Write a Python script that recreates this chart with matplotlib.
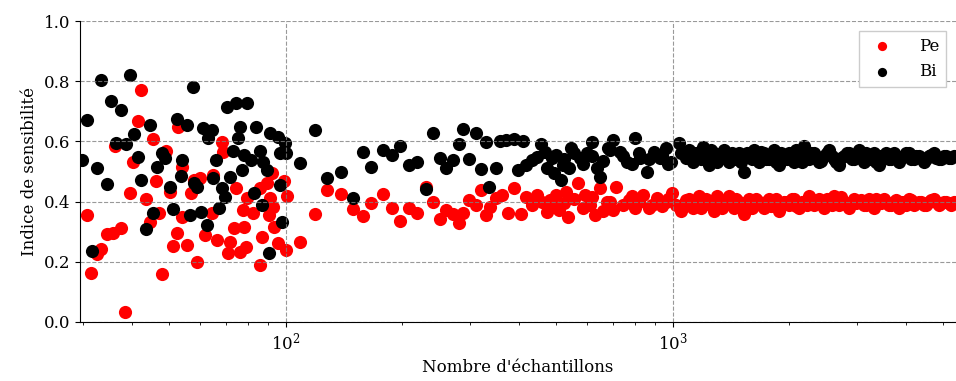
import matplotlib
matplotlib.use("Agg")
import matplotlib.pyplot as plt
import numpy as np

plt.rcParams['font.family'] = ['DejaVu Serif']
plt.rcParams['font.size'] = 12

# --- Pe (rouge) : petits echantillons ---
n_pe_low = [42.2, 41.5, 45.5, 49, 36.2, 40.2, 46.2, 39.5, 43.6, 30.7, 47, 44.5, 37.5, 35.7,
            34.5, 33.4, 32.5, 31.3, 48, 38.4, 52.5, 51.2, 50.3, 52.8,
            68.5, 69, 54, 60, 58, 65, 57, 74.6, 92, 89.5, 85.7, 79.5, 77.5, 82.5, 91, 92.5,
            90.5, 54, 64.5, 73.5, 78, 93, 62, 66.4, 71.7, 87, 55.5, 78.8, 76, 71, 95.5, 100,
            59, 85.7, 99, 101, 109]
pe_low = [0.771, 0.668, 0.608, 0.568, 0.585, 0.532, 0.468, 0.429, 0.408, 0.355, 0.362, 0.332,
          0.312, 0.296, 0.292, 0.242, 0.226, 0.163, 0.159, 0.033, 0.296, 0.252, 0.432, 0.648,
          0.598, 0.565, 0.515, 0.478, 0.472, 0.488, 0.429, 0.445, 0.495, 0.462, 0.445, 0.412,
          0.372, 0.362, 0.412, 0.382, 0.355, 0.349, 0.362, 0.312, 0.315, 0.315, 0.289, 0.272,
          0.266, 0.282, 0.256, 0.249, 0.233, 0.229, 0.262, 0.239, 0.199, 0.189, 0.47, 0.42,
          0.266]

# --- Bi (noir) : petits echantillons ---
n_bi_low = [33.4, 39.5, 35.3, 37.5, 30.7, 44.5, 52.5, 40.5, 36.5, 38.6, 29.7, 32.5, 41.5,
            34.5, 42.2, 48, 46.5, 48.8, 50.3, 45.5, 51.2, 43.6, 31.5,
            57.5, 70.4, 74.3, 79.5, 55.5, 61, 64.5, 63, 76, 75.2, 84, 91, 95.5, 99.5, 73, 78,
            85.7, 96.5, 66, 81.5, 87.2, 54, 77, 89.5, 53.5, 65, 71.7, 58, 59, 68.5, 69.5, 96.5,
            82.6, 67.3, 87, 56.5, 60.5, 62.5, 98, 90.5, 100]
bi_low = [0.804, 0.82, 0.734, 0.704, 0.671, 0.654, 0.674, 0.625, 0.595, 0.591, 0.538, 0.512,
          0.548, 0.458, 0.472, 0.561, 0.515, 0.545, 0.448, 0.362, 0.375, 0.309, 0.236,
          0.781, 0.714, 0.728, 0.728, 0.654, 0.645, 0.638, 0.611, 0.648, 0.611, 0.648, 0.628,
          0.615, 0.595, 0.568, 0.555, 0.568, 0.561, 0.538, 0.538, 0.532, 0.538, 0.505, 0.505,
          0.485, 0.478, 0.482, 0.462, 0.448, 0.445, 0.415, 0.455, 0.429, 0.379, 0.389, 0.355,
          0.365, 0.322, 0.332, 0.229, 0.56]

# --- echantillons moyens (100 - 1100) ---
n_pe_mid = [119, 128, 139, 149, 158, 166, 178, 188, 198, 208, 219, 230, 240, 250, 259, 270,
            280, 288, 298, 310, 320, 330, 338, 350, 362, 375, 390, 405, 418, 433, 446, 460,
            473, 483, 497, 500, 510, 535, 530, 570, 592, 610, 630, 648, 675, 715, 700, 770,
            800, 840, 885, 910, 960, 995, 1020, 1080,
            525, 555, 585, 620, 660, 690, 745, 785, 820, 870, 940, 975, 1050]
pe_mid = [0.359, 0.438, 0.425, 0.375, 0.352, 0.395, 0.425, 0.379, 0.336, 0.379, 0.362, 0.448,
          0.399, 0.342, 0.372, 0.359, 0.329, 0.362, 0.405, 0.389, 0.438, 0.355, 0.382, 0.412,
          0.422, 0.362, 0.445, 0.359, 0.415, 0.389, 0.422, 0.399, 0.365, 0.405, 0.382, 0.422,
          0.372, 0.349, 0.432, 0.462, 0.422, 0.389, 0.355, 0.445, 0.399, 0.448, 0.372, 0.405,
          0.379, 0.422, 0.389, 0.412, 0.399, 0.429, 0.389, 0.405,
          0.395, 0.41, 0.38, 0.415, 0.37, 0.40, 0.39, 0.42, 0.40, 0.38, 0.385, 0.41, 0.37]

n_bi_mid = [109, 119, 128, 139, 149, 158, 166, 178, 188, 198, 208, 219, 230, 240, 250, 259,
            270, 280, 288, 298, 310, 320, 330, 336, 350, 357, 372, 390, 398, 410, 417, 433,
            446, 457, 468, 473, 487, 495, 500, 516, 520, 540, 545, 575, 600, 618, 636, 648,
            680, 700, 730, 760, 800, 825, 860, 895, 925, 960, 990, 1040, 1080,
            525, 555, 585, 620, 660, 690, 745, 785, 820, 870, 940, 975, 1050]
bi_mid = [0.528, 0.638, 0.478, 0.498, 0.412, 0.565, 0.515, 0.571, 0.555, 0.585, 0.522, 0.532,
          0.442, 0.628, 0.545, 0.512, 0.538, 0.591, 0.641, 0.542, 0.628, 0.508, 0.598, 0.448,
          0.512, 0.601, 0.605, 0.608, 0.505, 0.601, 0.522, 0.538, 0.548, 0.591, 0.565, 0.512,
          0.545, 0.495, 0.555, 0.472, 0.522, 0.512, 0.578, 0.545, 0.561, 0.598, 0.512, 0.482,
          0.578, 0.605, 0.565, 0.532, 0.611, 0.545, 0.498, 0.565, 0.545, 0.578, 0.532, 0.595,
          0.545,
          0.54, 0.56, 0.525, 0.55, 0.535, 0.57, 0.55, 0.525, 0.56, 0.54, 0.555, 0.525, 0.56]

# --- grands echantillons (> 1100) ---
n_high = [1100, 1130, 1170, 1200, 1240, 1280, 1320, 1360, 1400, 1440, 1480, 1530, 1580, 1620,
          1670, 1720, 1770, 1830, 1880, 1940, 2000, 2060, 2120, 2190, 2250, 2320, 2390, 2460,
          2540, 2610, 2690, 2770, 2860, 2940, 3030, 3120, 3220, 3310, 3410, 3520, 3620, 3730,
          3840, 3960, 4080, 4200, 4330, 4460, 4590, 4730, 4870, 5020, 5170, 5330,
          1115, 1150, 1185, 1220, 1260, 1300, 1340, 1380, 1420, 1460, 1505, 1555, 1600, 1645,
          1695, 1745, 1800, 1855, 1910, 1970, 2030, 2090, 2155, 2220, 2285, 2355, 2425, 2500,
          2575, 2650, 2730, 2815, 2900, 2985, 3075, 3170, 3265, 3360, 3465, 3570, 3675, 3785,
          3900, 4020, 4140, 4265, 4395, 4525, 4660, 4800, 4945, 5095, 5250]
pe_high = [0.41, 0.38, 0.42, 0.39, 0.40, 0.37, 0.41, 0.39, 0.42, 0.38, 0.40, 0.36, 0.41, 0.39,
           0.40, 0.38, 0.41, 0.40, 0.37, 0.40, 0.39, 0.41, 0.38, 0.40, 0.42, 0.39, 0.41, 0.38,
           0.40, 0.42, 0.39, 0.40, 0.38, 0.41, 0.40, 0.39, 0.41, 0.38, 0.40, 0.41, 0.39, 0.40,
           0.38, 0.40, 0.41, 0.39, 0.40, 0.39, 0.40, 0.41, 0.39, 0.40, 0.395, 0.40,
           0.39, 0.40, 0.38, 0.41, 0.39, 0.42, 0.38, 0.40, 0.39, 0.41, 0.385, 0.40, 0.38, 0.41,
           0.39, 0.40, 0.385, 0.41, 0.39, 0.40, 0.41, 0.385, 0.40, 0.39, 0.41, 0.395, 0.40, 0.41,
           0.39, 0.40, 0.415, 0.39, 0.40, 0.395, 0.405, 0.39, 0.40, 0.41, 0.395, 0.40, 0.39,
           0.405, 0.40, 0.39, 0.405, 0.395, 0.40, 0.39, 0.405, 0.40, 0.395, 0.40, 0.39]
bi_high = [0.57, 0.53, 0.55, 0.58, 0.52, 0.56, 0.54, 0.57, 0.53, 0.55, 0.56, 0.50, 0.55, 0.57,
           0.53, 0.56, 0.54, 0.57, 0.52, 0.55, 0.56, 0.53, 0.55, 0.585, 0.54, 0.56, 0.53, 0.55,
           0.57, 0.54, 0.52, 0.55, 0.56, 0.54, 0.57, 0.53, 0.55, 0.56, 0.52, 0.55, 0.54, 0.56,
           0.53, 0.55, 0.56, 0.54, 0.55, 0.53, 0.55, 0.56, 0.54, 0.55, 0.545, 0.55,
           0.55, 0.56, 0.54, 0.55, 0.57, 0.53, 0.56, 0.54, 0.56, 0.54, 0.53, 0.56, 0.54, 0.55,
           0.565, 0.54, 0.55, 0.53, 0.56, 0.54, 0.55, 0.57, 0.53, 0.55, 0.56, 0.54, 0.535, 0.56,
           0.55, 0.53, 0.545, 0.56, 0.54, 0.55, 0.545, 0.56, 0.54, 0.53, 0.55, 0.56, 0.54,
           0.55, 0.545, 0.56, 0.54, 0.55, 0.545, 0.54, 0.555, 0.545, 0.54, 0.55, 0.545]

n_pe = n_pe_low + n_pe_mid + n_high
pe = pe_low + pe_mid + pe_high
n_bi = n_bi_low + n_bi_mid + n_high
bi = bi_low + bi_mid + bi_high

fig = plt.figure(figsize=(9.56, 3.81), dpi=100)
ax = fig.add_axes([80 / 956, 59 / 381, 1 - 80 / 956, 301 / 381])

ax.scatter(n_pe, pe, s=90, color='red', linewidths=0, label='Pe')
ax.scatter(n_bi, bi, s=90, color='black', linewidths=0, label='Bi')

ax.set_xscale('log')
ax.set_xlim(29.4, 5400)
ax.set_ylim(0, 1)
ax.set_yticks(np.arange(0, 1.01, 0.2))
ax.grid(True, which='major', linestyle='--', color='gray', alpha=0.8)
ax.spines['top'].set_visible(False)
ax.spines['right'].set_visible(False)
ax.set_xlabel("Nombre d'échantillons")
ax.set_ylabel("Indice de sensibilité")
leg = ax.legend(loc='upper right', fancybox=False, framealpha=1, borderaxespad=0.6,
                markerscale=0.7, handletextpad=1.2)
leg.get_frame().set_edgecolor('#cccccc')

fig.savefig("out.png", dpi=100)
